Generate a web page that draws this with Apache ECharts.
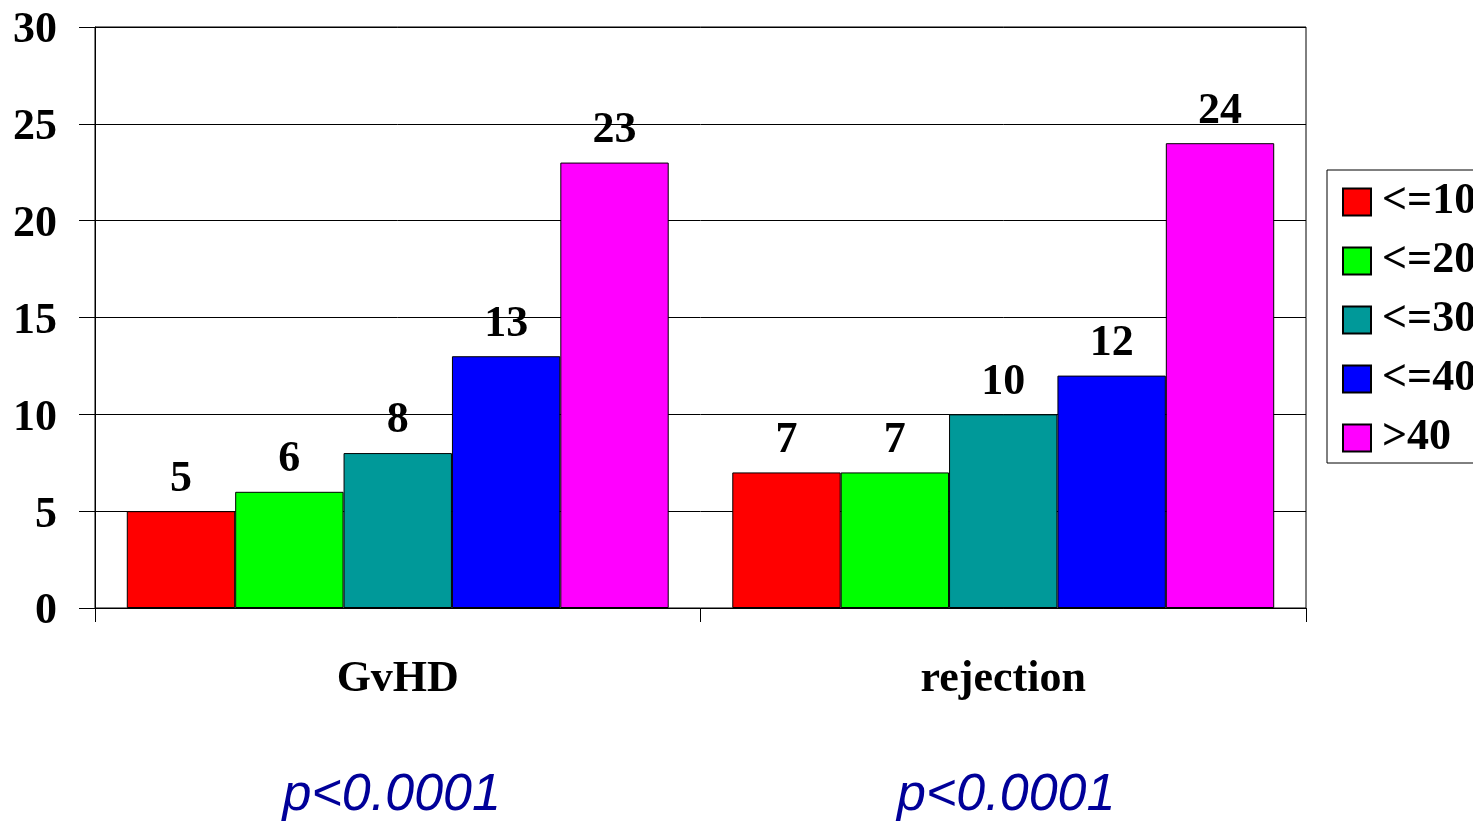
<!DOCTYPE html>
<html>
<head>
<meta charset="utf-8">
<script src="https://cdn.jsdelivr.net/npm/echarts@6/dist/echarts.min.js"></script>
<style>
  html, body { margin: 0; padding: 0; background: #fff; }
  #chart { width: 1473px; height: 823px; }
</style>
</head>
<body>
<div id="chart"></div>
<script>
// Outcome categories and age-group series
const categories = ['GvHD', 'rejection'];
const seriesNames = ['<=10', '<=20', '<=30', '<=40', '>40'];
const seriesColors = ['#ff0000', '#00ff00', '#009999', '#0000ff', '#ff00ff'];
const le10 = [5, 7];
const le20 = [6, 7];
const le30 = [8, 10];
const le40 = [13, 12];
const gt40 = [23, 24];
const pValues = ['p<0.0001', 'p<0.0001'];
const yTicks = { min: 0, max: 30, interval: 5 };

const seriesValues = [le10, le20, le30, le40, gt40];
const serif = '"Liberation Serif", "Times New Roman", serif';
const textSize = 44;

const chart = echarts.init(document.getElementById('chart'));

const series = seriesNames.map((name, i) => ({
  name: name,
  type: 'bar',
  data: seriesValues[i],
  barGap: '0%',
  barCategoryGap: '10.5%',
  itemStyle: { color: seriesColors[i], borderColor: '#000', borderWidth: 1 },
  label: {
    show: true,
    position: 'top',
    distance: 10,
    color: '#000',
    fontFamily: serif,
    fontWeight: 'bold',
    fontSize: textSize
  },
  emphasis: { disabled: true }
}));

const grid = { left: 95, right: 167, top: 27, bottom: 215 };

chart.setOption({
  animation: false,
  backgroundColor: '#fff',
  grid: Object.assign({ show: true, borderColor: '#000', borderWidth: 1, backgroundColor: 'transparent' }, grid),
  legend: {
    orient: 'vertical',
    left: 1327,
    top: 170,
    padding: [10, 120, 3, 15],
    itemWidth: 28,
    itemHeight: 27,
    itemGap: 15,
    borderColor: '#000',
    borderWidth: 1,
    icon: 'rect',
    selectedMode: false,
    textStyle: {
      color: '#000',
      fontFamily: serif,
      fontWeight: 'bold',
      fontSize: textSize,
      padding: [0, 0, 0, 6]
    },
    data: seriesNames
  },
  xAxis: {
    type: 'category',
    data: categories,
    axisLine: { lineStyle: { color: '#000', width: 1 } },
    axisTick: { show: true, length: 14, lineStyle: { color: '#000' } },
    axisLabel: {
      margin: 50,
      color: '#000',
      fontFamily: serif,
      fontWeight: 'bold',
      fontSize: textSize
    }
  },
  yAxis: {
    type: 'value',
    min: yTicks.min,
    max: yTicks.max,
    interval: yTicks.interval,
    axisLine: { show: true, lineStyle: { color: '#000', width: 1 } },
    axisTick: { show: true, length: 16, lineStyle: { color: '#000' } },
    splitLine: { show: true, lineStyle: { color: '#000', width: 1 } },
    axisLabel: {
      margin: 38,
      formatter: '{v|{value}}',
      rich: {
        v: {
          padding: [8, 0, 0, 0],
          color: '#000',
          fontFamily: serif,
          fontWeight: 'bold',
          fontSize: textSize
        }
      }
    }
  },
  series: series
});

// Significance labels under each category
const pLabelShift = [-6, 3];
function drawPValues() {
  const elements = categories.map((c, i) => {
    const x = chart.convertToPixel({ xAxisIndex: 0 }, c);
    return {
      type: 'text',
      x: x + pLabelShift[i],
      y: 796,
      style: {
        text: pValues[i],
        fill: '#000099',
        font: 'italic 52px "Liberation Sans", Arial, sans-serif',
        align: 'center',
        verticalAlign: 'middle'
      }
    };
  });
  chart.setOption({ graphic: elements });
}
drawPValues();
</script>
</body>
</html>
